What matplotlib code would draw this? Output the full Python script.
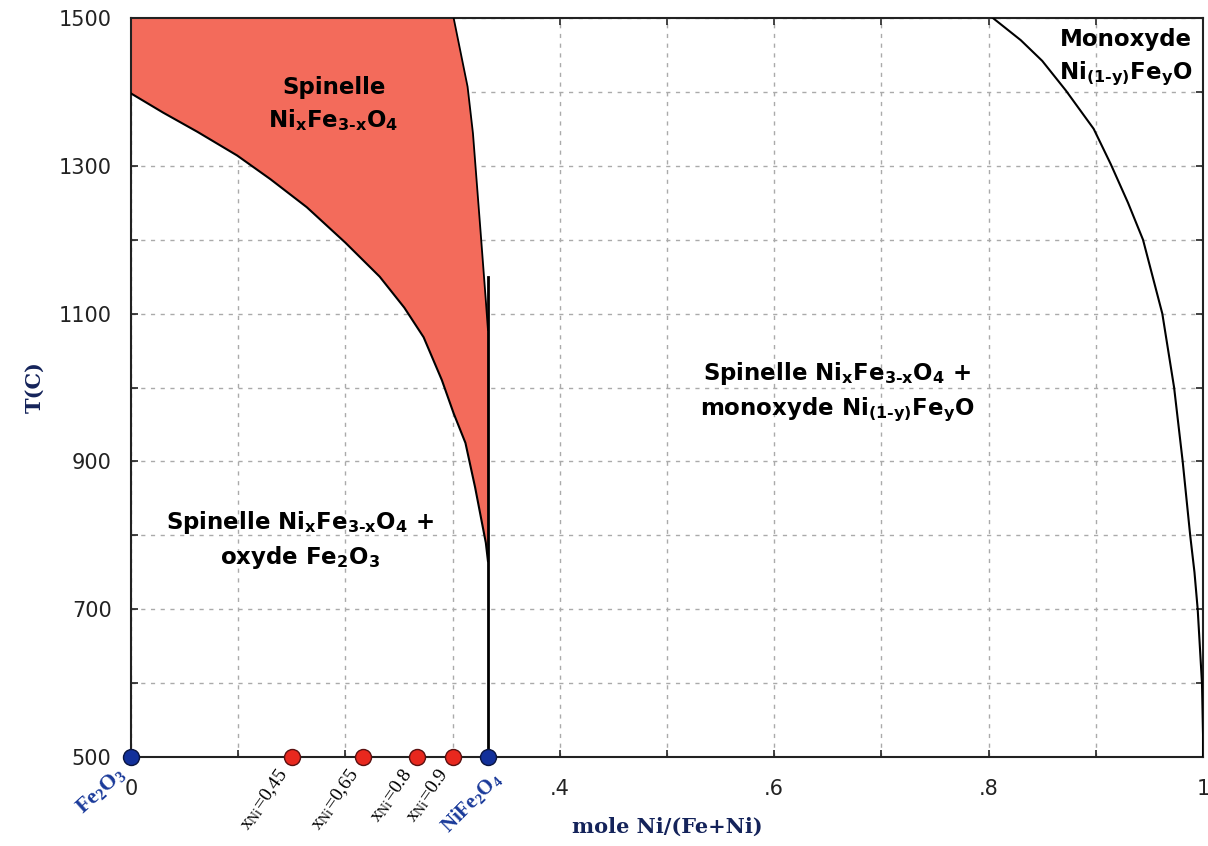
import matplotlib
matplotlib.use("Agg")
from matplotlib import pyplot as plt
import numpy as np

plt.rcParams['mathtext.default'] = 'regular'

# spinelle / spinelle + Fe2O3 boundary (Fe-rich side)
x_left = [0, 0.030, 0.062, 0.099, 0.130, 0.164, 0.200, 0.232, 0.255, 0.273, 0.290, 0.301, 0.312, 0.321, 0.331, 0.333]
T_left = [1398, 1372, 1346, 1314, 1282, 1244, 1196, 1150, 1108, 1068, 1010, 965, 925, 865, 790, 765]

# spinelle / spinelle + monoxyde boundary (Ni-rich side)
x_right = [0.301, 0.314, 0.319, 0.326, 0.331, 0.333]
T_right = [1500, 1407, 1344, 1213, 1118, 1078]

# monoxyde boundary
x_mono = [0.804, 0.830, 0.850, 0.872, 0.898, 0.914, 0.930, 0.944, 0.962, 0.973, 0.981, 0.988, 0.992, 0.995, 0.999, 1.0, 1.0]
T_mono = [1500, 1470, 1442, 1402, 1350, 1302, 1250, 1200, 1100, 1000, 900, 800, 750, 700, 600, 530, 500]

# compositions studied (x_Ni / 3)
x_ni = [0.45, 0.65, 0.8, 0.9]
x_ni_labels = ['x$_{Ni}$=0,45', 'x$_{Ni}$=0,65', 'x$_{Ni}$=0.8', 'x$_{Ni}$=0.9']
x_ends = [0, 1 / 3]
end_labels = ['Fe$_2$O$_3$', 'NiFe$_2$O$_4$']

yticks = list(range(500, 1501, 100))
ylabels = ['500', '', '700', '', '900', '', '1100', '', '1300', '', '1500']
xticks = [round(0.1 * i, 1) for i in range(11)]
xlabels = ['0', '', '', '', '.4', '', '.6', '', '.8', '', '1']

navy = '#14235a'
red_fill = '#f36b5b'
spinel = 'Ni$_x$Fe$_{3\u2010x}$O$_4$'
monox = 'Ni$_{(1\u2010y)}$Fe$_y$O'

fig = plt.figure(figsize=(12.08, 8.46), dpi=100)
ax = fig.add_axes([0.1084, 0.1052, 0.8875, 0.8735])

# spinelle single-phase region
poly_x = [0, x_right[0]] + x_right + [1 / 3] + x_left[::-1]
poly_y = [1500, 1500] + T_right + [765] + T_left[::-1]
ax.fill(poly_x, poly_y, color=red_fill, lw=0, zorder=1)

ax.plot(x_left, T_left, color='k', lw=1.5, zorder=3)
ax.plot(x_right, T_right, color='k', lw=1.3, zorder=3)
ax.plot([1 / 3, 1 / 3], [1150, 500], color='k', lw=2, zorder=3)
ax.plot(x_mono, T_mono, color='k', lw=1.5, zorder=3)

ax.set_xlim(0, 1)
ax.set_ylim(500, 1500)
ax.set_axisbelow(True)
ax.grid(True, color='#aaaaaa', lw=1, ls=(0, (3, 4)))
ax.set_xticks(xticks)
ax.set_xticklabels(xlabels)
ax.set_yticks(yticks)
ax.set_yticklabels(ylabels)
ax.tick_params(direction='in', length=5, width=1.2, top=True, right=True, labelsize=15, colors='#222222')
ax.tick_params(axis='y', pad=14)
ax.tick_params(axis='x', pad=16)
for s in ax.spines.values():
    s.set_linewidth(1.5)
    s.set_color('#222222')

ax.set_xlabel('mole Ni/(Fe+Ni)', family='DejaVu Serif', fontweight='bold', fontsize=15, color=navy, labelpad=13)
ax.set_ylabel('T(C)', family='DejaVu Serif', fontweight='bold', fontsize=15, color=navy, labelpad=10)

# markers on the composition axis
ax.plot(np.array(x_ni) / 3, [500] * len(x_ni), 'o', ms=11.5, mfc='#e8281e', mec='#5a1010', mew=1, clip_on=False, zorder=5)
ax.plot(x_ends, [500, 500], 'o', ms=11.5, mfc='#12309a', mec='#0a1540', mew=1, clip_on=False, zorder=5)

for xv, lab in zip(x_ni, x_ni_labels):
    ax.annotate(lab, xy=(xv / 3, 500), xytext=(-8, -14), textcoords='offset pixels',
                rotation=55, rotation_mode='anchor', ha='right', va='center',
                family='Liberation Serif', fontsize=14, annotation_clip=False)
ax.annotate(end_labels[0], xy=(0, 500), xytext=(-8, -14), textcoords='offset pixels',
            rotation=42, rotation_mode='anchor', ha='right', va='center', color='#1a3a9a',
            family='Liberation Serif', fontweight='bold', fontsize=16, annotation_clip=False)
ax.annotate(end_labels[1], xy=(1 / 3, 500), xytext=(10, -18), textcoords='offset pixels',
            rotation=45, rotation_mode='anchor', ha='right', va='center', color='#1a3a9a',
            family='Liberation Serif', fontweight='bold', fontsize=15, annotation_clip=False)

lab_kw = dict(family='DejaVu Sans', fontweight='bold', fontsize=16.5, ha='center', va='center', linespacing=1.4)
ax.text(0.189, 1383, 'Spinelle\n' + spinel, **lab_kw)
ax.text(0.158, 793, 'Spinelle ' + spinel + ' +\noxyde Fe$_2$O$_3$', **lab_kw)
ax.text(0.659, 994, 'Spinelle ' + spinel + ' +\nmonoxyde ' + monox, **lab_kw)
ax.text(0.928, 1446, 'Monoxyde\n' + monox, **lab_kw)

fig.savefig('out.png', dpi=100)
